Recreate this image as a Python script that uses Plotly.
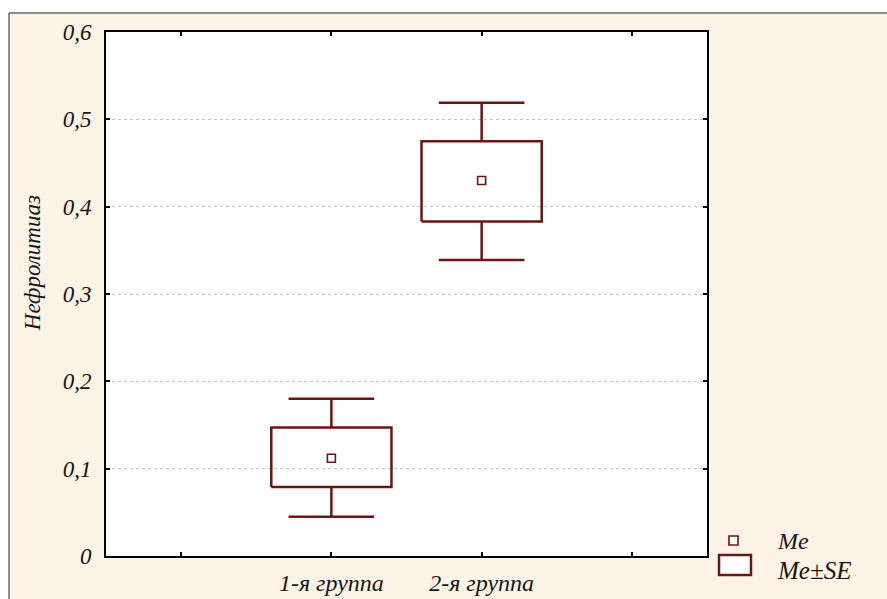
import plotly.graph_objects as go

# ---- data ----
groups = ["1-я группа", "2-я группа"]
x_pos = [1, 2]
median = [0.112, 0.430]
se_low = [0.079, 0.383]
se_high = [0.147, 0.475]
whisk_low = [0.045, 0.339]
whisk_high = [0.180, 0.519]

x_tickvals = [0, 1, 2, 3]
x_ticktext = ["", "1-я группа", "2-я группа", ""]
y_tickvals = [0, 0.1, 0.2, 0.3, 0.4, 0.5, 0.6]
y_ticktext = ["0", "0,1", "0,2", "0,3", "0,4", "0,5", "0,6"]

COLOR = "#6B1616"
BG = "#FDF3E6"
FONT = "Liberation Serif"
TXT = "#151515"
box_half = 0.40
cap_half = 0.285

fig = go.Figure()

bx, by, wx, wy = [], [], [], []
for x, lo, hi, wl, wh in zip(x_pos, se_low, se_high, whisk_low, whisk_high):
    bx += [x - box_half, x + box_half, x + box_half, x - box_half, x - box_half, None]
    by += [lo, lo, hi, hi, lo, None]
    wx += [x, x, None, x - cap_half, x + cap_half, None, x, x, None, x - cap_half, x + cap_half, None]
    wy += [hi, wh, None, wh, wh, None, lo, wl, None, wl, wl, None]

fig.add_trace(go.Scatter(x=wx, y=wy, mode="lines", line=dict(color=COLOR, width=2.5),
                         showlegend=False, hoverinfo="skip"))
fig.add_trace(go.Scatter(x=bx, y=by, mode="lines", line=dict(color=COLOR, width=2.5),
                         showlegend=False, hoverinfo="skip"))
fig.add_trace(go.Scatter(x=x_pos, y=median, mode="markers",
                         marker=dict(symbol="square-open", size=8, color=COLOR,
                                     line=dict(width=1.6, color=COLOR)),
                         showlegend=False))

axis_common = dict(showline=True, linecolor="black", linewidth=2, mirror="ticks",
                   ticks="inside", ticklen=4, tickwidth=2, tickcolor="black",
                   zeroline=False, automargin=False)

fig.update_xaxes(range=[-0.5, 3.5], tickvals=x_tickvals, ticktext=x_ticktext,
                 showgrid=False,
                 tickfont=dict(family=FONT, size=24, color=TXT, style="italic"),
                 ticklabelstandoff=4, **axis_common)
fig.update_yaxes(range=[0, 0.6], tickvals=y_tickvals, ticktext=y_ticktext,
                 showgrid=True, gridcolor="#C4C4C4", griddash="dot", gridwidth=1,
                 tickfont=dict(family=FONT, size=23, color=TXT, style="italic"),
                 ticklabelstandoff=8, **axis_common)

shapes = [
    # white top and left strips with grey border lines
    dict(type="rect", xref="paper", yref="paper", x0=-0.18, x1=1.31, y0=1.0363, y1=1.07,
         fillcolor="white", line=dict(width=0), layer="above"),
    dict(type="rect", xref="paper", yref="paper", x0=-0.18, x1=-0.1614, y0=-0.1, y1=1.07,
         fillcolor="white", line=dict(width=0), layer="above"),
    dict(type="line", xref="paper", yref="paper", x0=-0.1614, x1=1.31, y0=1.0363, y1=1.0363,
         line=dict(color="#6A6A6A", width=1.5), layer="above"),
    dict(type="line", xref="paper", yref="paper", x0=-0.1614, x1=-0.1614, y0=-0.1, y1=1.0363,
         line=dict(color="#6A6A6A", width=1.5), layer="above"),
    # legend symbols
    dict(type="rect", xref="paper", yref="paper", x0=1.0366, x1=1.0516, y0=0.0210, y1=0.0382,
         fillcolor="white", line=dict(color=COLOR, width=1.6), layer="above"),
    dict(type="rect", xref="paper", yref="paper", x0=1.0200, x1=1.0732, y0=-0.0363, y1=0.0019,
         fillcolor="white", line=dict(color=COLOR, width=2.5), layer="above"),
]

annotations = [
    dict(text="Нефролитиаз", xref="paper", yref="paper", x=-0.123, y=0.559, textangle=-90,
         showarrow=False, font=dict(family=FONT, size=23, color=TXT, style="italic"),
         xanchor="center", yanchor="middle"),
    dict(text="Me", xref="paper", yref="paper", x=1.113, y=0.0286, showarrow=False,
         xanchor="left", yanchor="middle",
         font=dict(family=FONT, size=24, color=TXT, style="italic")),
    dict(text="Me±SE", xref="paper", yref="paper", x=1.113, y=-0.0286, showarrow=False,
         xanchor="left", yanchor="middle",
         font=dict(family=FONT, size=25, color=TXT, style="italic")),
]

fig.update_layout(
    width=887, height=599,
    margin=dict(l=106, r=180, t=32, b=43, autoexpand=False),
    paper_bgcolor=BG, plot_bgcolor="white",
    shapes=shapes, annotations=annotations,
    showlegend=False,
)

fig.write_html("out.html", config={"displayModeBar": False},
               post_script="document.body.style.margin='0';document.body.style.overflow='hidden';")
